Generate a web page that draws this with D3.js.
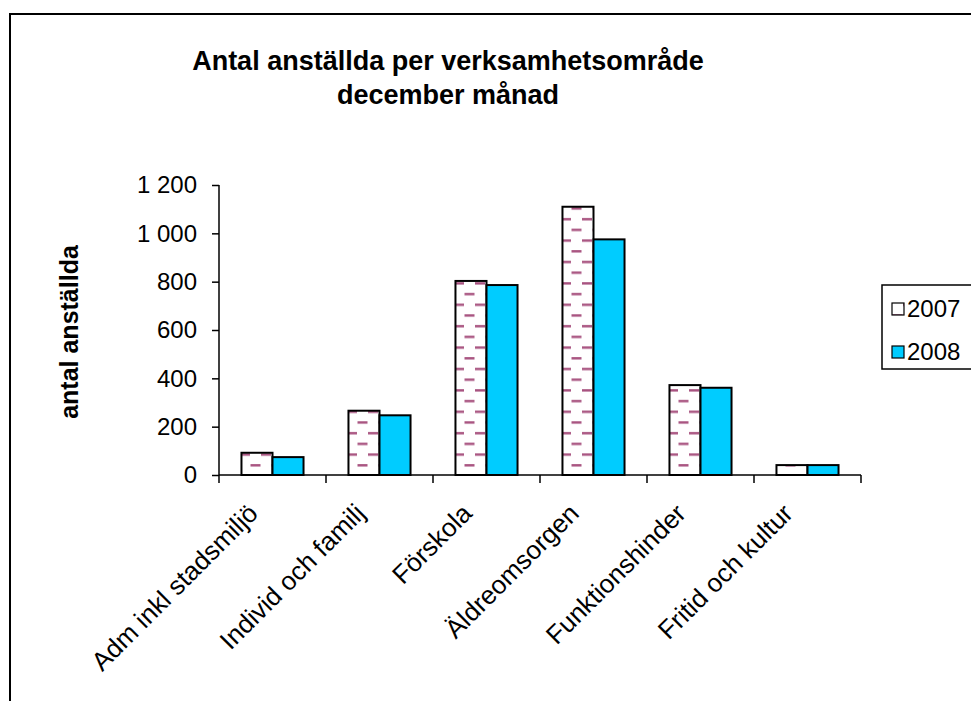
<!DOCTYPE html>
<html>
<head>
<meta charset="utf-8">
<script src="https://cdn.jsdelivr.net/npm/d3@7"></script>
<style>
  body { margin: 0; background: #fff; }
  text { font-family: "Liberation Sans", Arial, sans-serif; }
</style>
</head>
<body>
<div id="chart"></div>
<script>
// data
const categories = ["Adm inkl stadsmiljö", "Individ och familj", "Förskola", "Äldreomsorgen", "Funktionshinder", "Fritid och kultur"];
const series = ["2007", "2008"];
const values2007 = [92, 266, 803, 1110, 372, 41];
const values2008 = [74, 247, 786, 975, 361, 41];
const yTicks = [0, 200, 400, 600, 800, 1000, 1200];

const width = 971, height = 701;
const plot = {left: 219, right: 861, top: 185, bottom: 475};

const svg = d3.select("#chart")
  .append("svg")
    .attr("width", width)
    .attr("height", height);

// hatch pattern for 2007
const defs = svg.append("defs");
const pat = defs.append("pattern")
    .attr("id", "dashes")
    .attr("patternUnits", "userSpaceOnUse")
    .attr("width", 21)
    .attr("height", 21.4);
pat.append("rect").attr("width", 21).attr("height", 21.4).attr("fill", "#fff");
pat.append("rect").attr("x", 0).attr("y", 4).attr("width", 10).attr("height", 2.4).attr("fill", "#a8527f");
pat.append("rect").attr("x", 10.5).attr("y", 14.7).attr("width", 10).attr("height", 2.4).attr("fill", "#a8527f");

// outer chart frame
svg.append("rect")
    .attr("x", 10).attr("y", 14)
    .attr("width", 980).attr("height", 720)
    .attr("fill", "none")
    .attr("stroke", "#000")
    .attr("stroke-width", 2);

// title
svg.append("text")
    .attr("x", 448).attr("y", 70)
    .attr("text-anchor", "middle")
    .attr("font-size", "27px")
    .attr("font-weight", "bold")
    .text("Antal anställda per verksamhetsområde");
svg.append("text")
    .attr("x", 448).attr("y", 104)
    .attr("text-anchor", "middle")
    .attr("font-size", "27px")
    .attr("font-weight", "bold")
    .text("december månad");

// scales
const x0 = d3.scaleBand()
  .domain(categories)
  .range([plot.left, plot.right])
  .padding(0);
const bw = x0.bandwidth();
const x1 = d3.scaleBand()
  .domain(series)
  .range([bw * 0.21, bw * 0.79])
  .padding(0);
const y = d3.scaleLinear()
  .domain([0, 1200])
  .range([plot.bottom, plot.top]);

const fmt = d3.formatLocale({decimal: ",", thousands: " ", grouping: [3], currency: ["", ""]}).format(",d");

// Y axis
const yAxis = svg.append("g")
  .attr("transform", `translate(${plot.left},0)`)
  .call(d3.axisLeft(y).tickValues(yTicks).tickFormat(fmt).tickSize(7).tickPadding(15));
yAxis.selectAll("text").attr("font-size", "24px").attr("font-family", "Liberation Sans, Arial, sans-serif").attr("fill", "#000");
yAxis.selectAll("line, path").attr("stroke", "#000").attr("stroke-width", 1.5);
yAxis.select(".domain").attr("d", `M0,${plot.top}V${plot.bottom}`);

svg.append("text")
    .attr("transform", `translate(78,332) rotate(-90)`)
    .attr("text-anchor", "middle")
    .attr("font-size", "25px")
    .attr("font-weight", "bold")
    .text("antal anställda");

// X axis (ticks at category boundaries)
const xAxis = svg.append("g");
xAxis.append("line")
    .attr("x1", plot.left).attr("x2", plot.right)
    .attr("y1", plot.bottom).attr("y2", plot.bottom)
    .attr("stroke", "#000").attr("stroke-width", 1.5);
const bounds = categories.map(c => x0(c)).concat([plot.right]);
xAxis.selectAll("line.tick")
  .data(bounds)
  .join("line")
    .attr("class", "tick")
    .attr("x1", d => d).attr("x2", d => d)
    .attr("y1", plot.bottom).attr("y2", plot.bottom + 8)
    .attr("stroke", "#000").attr("stroke-width", 1.5);
xAxis.selectAll("text")
  .data(categories)
  .join("text")
    .attr("transform", d => `translate(${x0(d) + bw / 2 - 13},${plot.bottom + 40}) rotate(-45)`)
    .attr("text-anchor", "end")
    .attr("font-size", "26px")
    .text(d => d);

// Bars
const rows = categories.map((c, i) => ({cat: c, vals: [values2007[i], values2008[i]]}));
const fills = ["url(#dashes)", "#00ccff"];
svg.append("g")
  .selectAll("g")
  .data(rows)
  .join("g")
    .attr("transform", d => `translate(${x0(d.cat)},0)`)
  .selectAll("rect")
  .data(d => d.vals.map((v, j) => ({key: series[j], value: v, j: j})))
  .join("rect")
    .attr("x", d => x1(d.key))
    .attr("y", d => y(d.value))
    .attr("width", x1.bandwidth())
    .attr("height", d => plot.bottom - y(d.value))
    .attr("fill", d => fills[d.j])
    .attr("stroke", "#000")
    .attr("stroke-width", 2);

// Legend
const legend = svg.append("g");
legend.append("rect")
    .attr("x", 882).attr("y", 285)
    .attr("width", 120).attr("height", 84)
    .attr("fill", "#fff")
    .attr("stroke", "#000")
    .attr("stroke-width", 1.5);
series.forEach((s, i) => {
  const cy = 309 + i * 43;
  legend.append("rect")
    .attr("x", 892).attr("y", cy - 6)
    .attr("width", 12).attr("height", 12)
    .attr("fill", fills[i])
    .attr("stroke", "#000")
    .attr("stroke-width", 1.2);
  legend.append("text")
    .attr("x", 907).attr("y", cy + 8)
    .attr("font-size", "24px")
    .text(s);
});
</script>
</body>
</html>
